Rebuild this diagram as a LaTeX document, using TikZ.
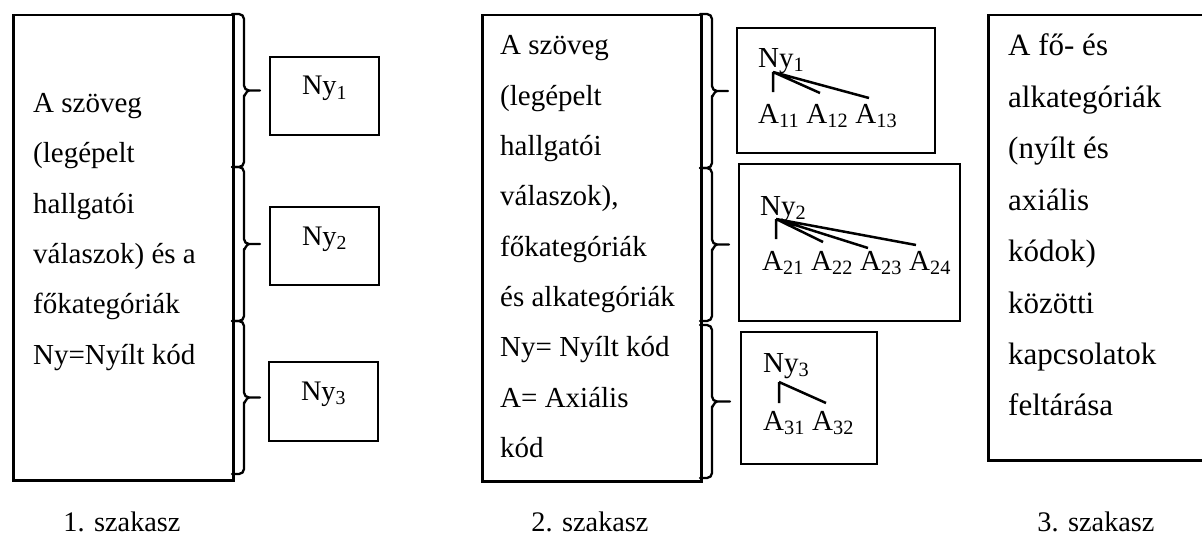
\documentclass[tikz,border=0pt]{standalone}
\usepackage{fontspec}
\setmainfont{Liberation Serif}

% Word-style curly bracket: box edge x, top y, bottom y, tip x
\newcommand\wordbrace[4]{%
  \draw[bracket]
    (#1,#2) -- ({#1+7},#2) to[out=0,in=90] ({#1+12},{#2+5})
    -- ({#1+12},{(#2+#3)/2-5}) to[out=-90,in=180] ({#1+17},{(#2+#3)/2})
    -- (#4,{(#2+#3)/2});
  \draw[bracket]
    ({#1+17},{(#2+#3)/2}) to[out=180,in=-90] ({#1+12},{(#2+#3)/2+5})
    -- ({#1+12},{#3-5}) to[out=-90,in=0] ({#1+7},#3) -- (#1,#3);
}

\begin{document}
\begin{tikzpicture}[x=1pt,y=-1pt,
  box/.style={draw, line width=2.5pt, inner sep=0pt},
  bracket/.style={line width=2.3pt, line cap=round, line join=round},
  branch/.style={line width=2.5pt},
  txt/.style={anchor=base west, inner sep=0pt, font=\fontsize{29}{30}\selectfont},
  bigtxt/.style={anchor=base west, inner sep=0pt, font=\fontsize{31}{32}\selectfont},
  ctxt/.style={anchor=base, inner sep=0pt, font=\fontsize{28.3}{30}\selectfont}]
\useasboundingbox (0,0) rectangle (1202,535);

% ---------- stage 1 ----------
\node[box, anchor=north west, minimum width=220pt, minimum height=465pt] (L) at (12,14) {};
\foreach \s [count=\i] in {A szöveg,{(legépelt},hallgatói,{válaszok) és a},főkategóriák,{Ny=Nyílt kód}}
  \node[txt] (lt\i) at (33,{112.5+50.3*(\i-1)}) {\s};

\wordbrace{232}{14}{167}{260}
\wordbrace{232}{167}{321}{260}
\wordbrace{232}{321}{474}{260}

\node[box, minimum width=109pt, minimum height=78pt] (n1) at (324.5,96) {};
\node[box, minimum width=109pt, minimum height=78pt] (n2) at (324.5,246) {};
\node[box, minimum width=109pt, minimum height=79pt] (n3) at (323.5,401.5) {};
\node[ctxt] (n1t) at (324.5,95) {Ny\textsubscript{1}};
\node[ctxt] (n2t) at (324.5,245) {Ny\textsubscript{2}};
\node[ctxt] (n3t) at (323.5,400) {Ny\textsubscript{3}};

\node[ctxt] (s1) at (122,531) {1. szakasz};

% ---------- stage 2 ----------
\node[box, anchor=north west, minimum width=219pt, minimum height=466pt] (M) at (481,14) {};
\foreach \s [count=\i] in {A szöveg,{(legépelt},hallgatói,{válaszok),},főkategóriák,{és alkategóriák},{Ny= Nyílt kód},{A= Axiális},kód}
  \node[txt] (mt\i) at (500,{55+50.3*(\i-1)}) {\s};

\wordbrace{700}{14}{168}{728}
\wordbrace{700}{168}{321}{729}
\wordbrace{700}{325}{478}{730}

% open code 1 with its axial codes
\node[box, minimum width=198pt, minimum height=125pt] (b1) at (836,90.5) {};
\node[txt] (b1n) at (758,67) {Ny\textsubscript{1}};
\node[txt] (b1a) at (758,123) {A\textsubscript{11} A\textsubscript{12} A\textsubscript{13}};
\coordinate (r1) at (773,72);
\coordinate (c11) at (773,92);
\coordinate (c12) at (820,93);
\coordinate (c13) at (869,98);
\draw[branch] (r1) -- (c11) (r1) -- (c12) (r1) -- (c13);

% open code 2 with its axial codes
\node[box, minimum width=221pt, minimum height=157pt] (b2) at (849.5,242.5) {};
\node[txt] (b2n) at (760,215) {Ny\textsubscript{2}};
\node[txt] (b2a) at (762,270) {A\textsubscript{21} A\textsubscript{22} A\textsubscript{23} A\textsubscript{24}};
\coordinate (r2) at (776,219);
\coordinate (c21) at (776,239);
\coordinate (c22) at (823,242);
\coordinate (c23) at (868,248);
\coordinate (c24) at (916,245);
\draw[branch] (r2) -- (c21) (r2) -- (c22) (r2) -- (c23) (r2) -- (c24);

% open code 3 with its axial codes
\node[box, minimum width=136pt, minimum height=132pt] (b3) at (809,398) {};
\node[txt] (b3n) at (763,372) {Ny\textsubscript{3}};
\node[txt] (b3a) at (763,430) {A\textsubscript{31} A\textsubscript{32}};
\coordinate (r3) at (779,382);
\coordinate (c31) at (779,403);
\coordinate (c32) at (826,403);
\draw[branch] (r3) -- (c31) (r3) -- (c32);

\node[ctxt] (s2) at (590,531) {2. szakasz};

% ---------- stage 3 ----------
\node[box, anchor=north west, minimum width=223pt, minimum height=445pt] (R) at (987,14) {};
\foreach \s [count=\i] in {A fő- és,alkategóriák,{(nyílt és},axiális,{kódok)},közötti,kapcsolatok,feltárása}
  \node[bigtxt] (rt\i) at (1008,{56+51.4*(\i-1)}) {\s};

\node[ctxt] (s3) at (1096,531) {3. szakasz};
\end{tikzpicture}
\end{document}
